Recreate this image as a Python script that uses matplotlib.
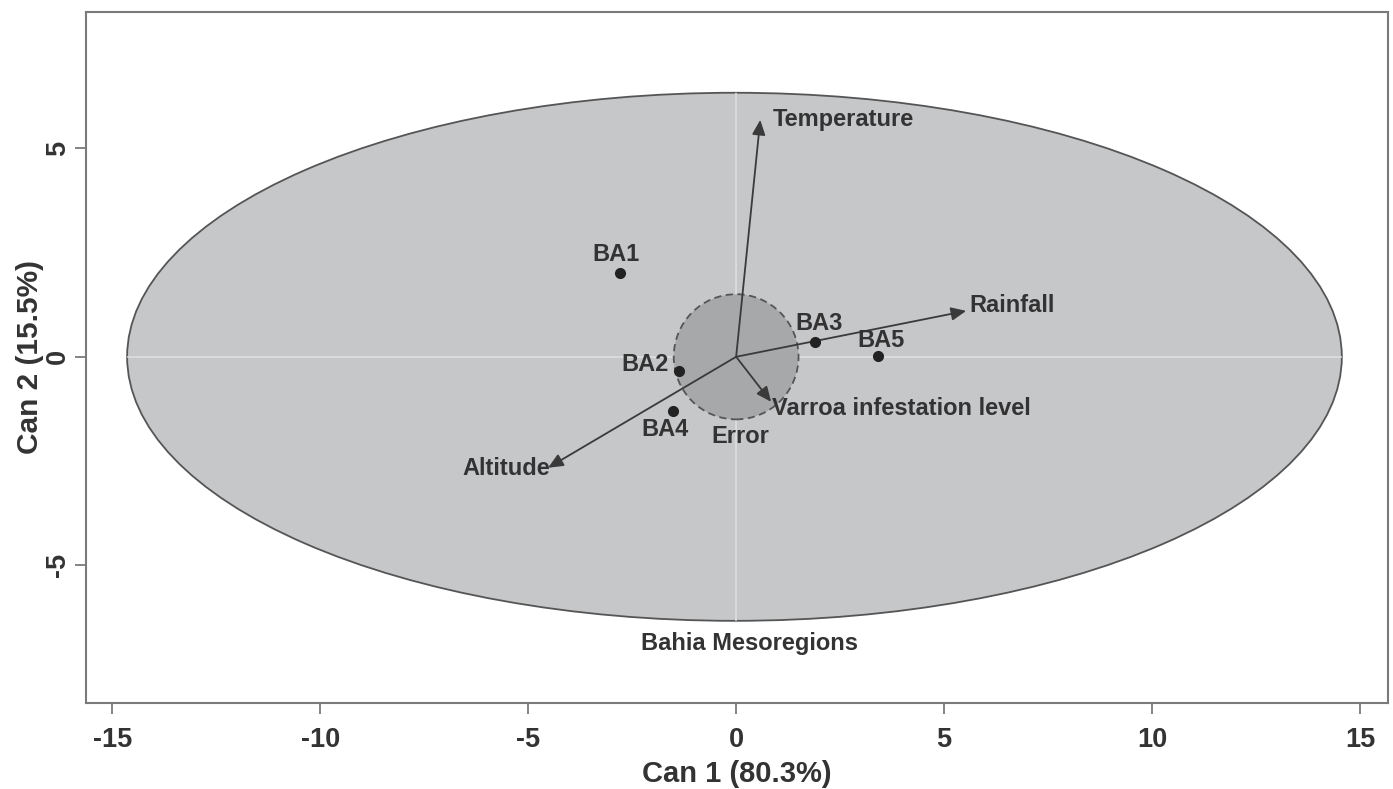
import matplotlib.pyplot as plt
from matplotlib.patches import Ellipse, Circle

plt.rcParams['font.family'] = ['Liberation Sans', 'DejaVu Sans']

# group means (canonical scores)
groups = ['BA1', 'BA2', 'BA3', 'BA4', 'BA5']
can1 = [-2.79, -1.37, 1.90, -1.51, 3.41]
can2 = [2.01, -0.34, 0.36, -1.29, 0.02]

# structure vectors
variables = ['Temperature', 'Rainfall', 'Altitude', 'Varroa infestation level']
vec1 = [0.58, 5.53, -4.52, 0.84]
vec2 = [5.68, 1.10, -2.66, -1.08]

# ellipse semi-axes and error circle radius
ell_a, ell_b = 14.6, 6.33
err_r = 1.5

xticks = [-15, -10, -5, 0, 5, 10, 15]
yticks = [-5, 0, 5]

txt = '#333333'
grey = '#7a7a7a'

fig = plt.figure(figsize=(13.93, 7.89), dpi=100)
ax = fig.add_axes([0.0617, 0.109, 0.9347, 0.876])
ax.set_xlim(-15.63, 15.67)
ax.set_ylim(-8.3, 8.27)

ell = Ellipse((-0.04, 0), 2 * ell_a, 2 * ell_b, facecolor='#c6c7c9', edgecolor='#555555', lw=1.3, zorder=1)
ax.add_patch(ell)

# light cross through the origin, only inside the ellipse
h = ax.axhline(0, color='#dedede', lw=1.2, zorder=2)
v = ax.axvline(0, color='#dedede', lw=1.2, zorder=2)
h.set_clip_path(ell)
v.set_clip_path(ell)

circ = Circle((0, 0), err_r, facecolor='#a7a8aa', edgecolor='#555555', lw=1.3, ls=(0, (4, 2.5)), zorder=3)
ax.add_patch(circ)

# arrows
for x, y in zip(vec1, vec2):
    ax.annotate('', xy=(x, y), xytext=(0, 0),
                arrowprops=dict(arrowstyle='-|>,head_length=0.45,head_width=0.2', mutation_scale=20, lw=1.3,
                                color='#3a3a3a', shrinkA=0, shrinkB=0),
                zorder=4)

ax.plot(can1, can2, 'o', color='#222222', ms=7, zorder=5)

# label placement
fs = 17
group_lbl = {
    'BA1': (-2.88, 2.45, 'center'),
    'BA2': (-1.63, -0.19, 'right'),
    'BA3': (2.0, 0.79, 'center'),
    'BA4': (-1.71, -1.75, 'center'),
    'BA5': (3.49, 0.38, 'center'),
}
for g in groups:
    x, y, ha = group_lbl[g]
    ax.text(x, y, g, ha=ha, va='center', fontsize=fs, fontweight='bold', color=txt, zorder=6)

var_lbl = {
    'Temperature': (0.89, 5.68, 'left'),
    'Rainfall': (5.6, 1.23, 'left'),
    'Altitude': (-4.47, -2.69, 'right'),
    'Varroa infestation level': (0.86, -1.24, 'left'),
}
for name in variables:
    x, y, ha = var_lbl[name]
    ax.text(x, y, name, ha=ha, va='center', fontsize=fs, fontweight='bold', color=txt, zorder=6)

ax.text(0.1, -1.9, 'Error', ha='center', va='center', fontsize=fs, fontweight='bold', color=txt, zorder=6)
ax.text(0.31, -6.88, 'Bahia Mesoregions', ha='center', va='center', fontsize=17, fontweight='bold', color=txt)

for s in ax.spines.values():
    s.set_color(grey)
    s.set_linewidth(1.5)

ax.set_xticks(xticks)
ax.set_yticks(yticks)
ax.set_xticklabels([str(t) for t in xticks], fontsize=19.5, fontweight='bold', color=txt)
ax.set_yticklabels([str(t) for t in yticks], fontsize=19.5, fontweight='bold', color=txt,
                   rotation=90, va='center')
ax.tick_params(axis='both', direction='out', length=8, width=1.3, color=grey)
ax.tick_params(axis='x', pad=9)
ax.tick_params(axis='y', pad=3)

ax.set_xlabel('Can 1 (80.3%)', fontsize=21, fontweight='bold', color=txt)
ax.set_ylabel('Can 2 (15.5%)', fontsize=21.5, fontweight='bold', color=txt)
ax.xaxis.set_label_coords(0.5, -0.083)
ax.yaxis.set_label_coords(-0.032, 0.5)

fig.savefig('out.png', dpi=100)
